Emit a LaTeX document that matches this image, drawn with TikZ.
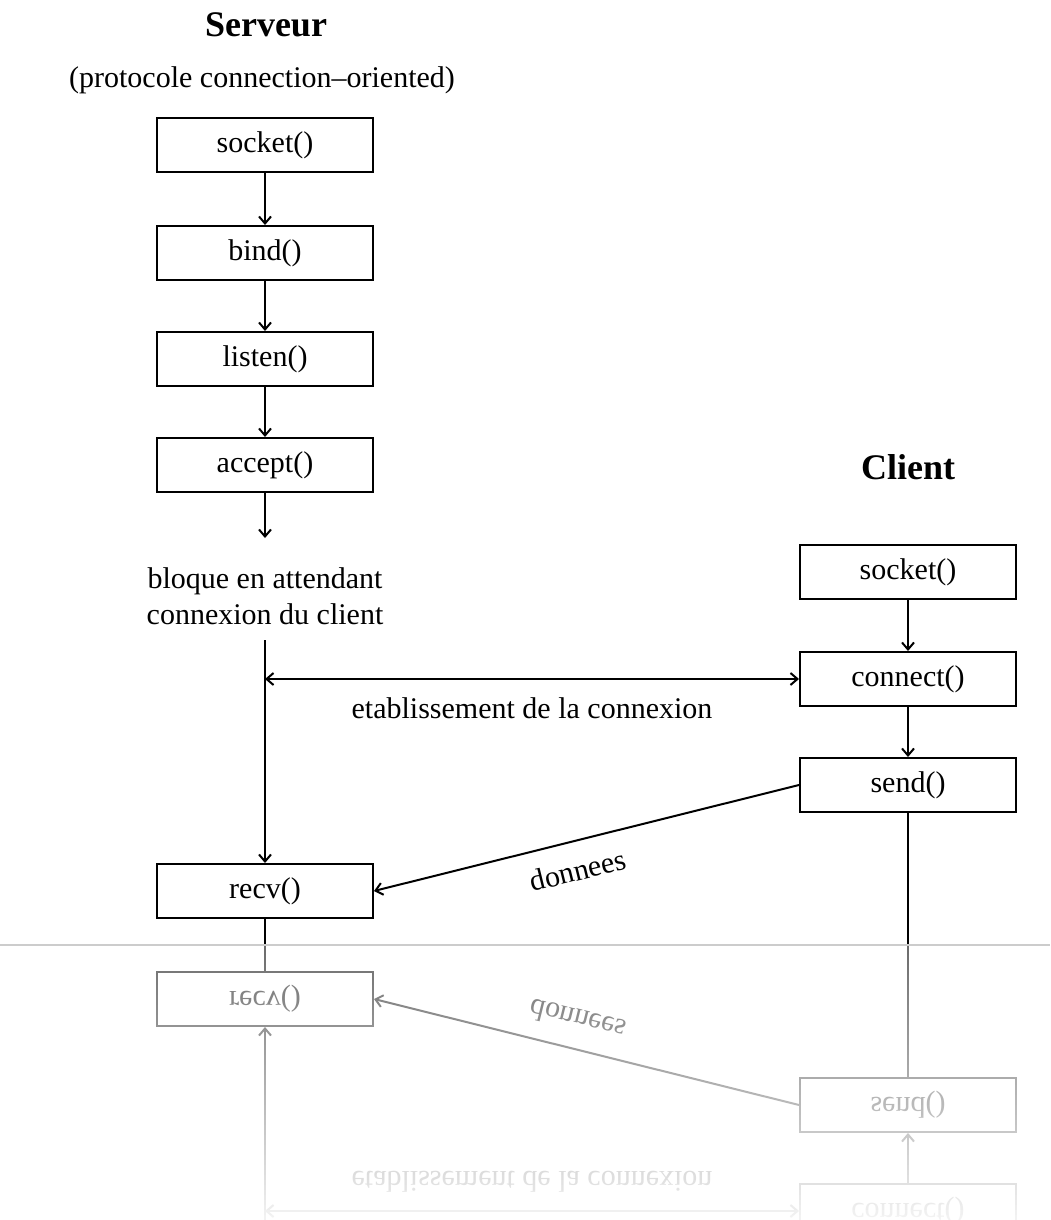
\documentclass[tikz,border=0pt]{standalone}
\usepackage{fontspec}
\setmainfont{Liberation Serif}
\usetikzlibrary{arrows.meta}

\tikzset{
  fn/.style={draw, line width=2pt, minimum width=216pt, minimum height=54pt, inner sep=0pt,
             font=\fontsize{30}{36}\selectfont},
  txt/.style={inner sep=0pt, font=\fontsize{30}{36}\selectfont},
  ttl/.style={inner sep=0pt, font=\fontsize{36}{40}\selectfont\bfseries},
  conn/.style={line width=2pt},
  flow/.style={line width=2pt, -{Straight Barb[length=7pt,width=12pt]}},
  both/.style={line width=2pt, {Straight Barb[length=7pt,width=12pt]}-{Straight Barb[length=7pt,width=12pt]}},
}

% lower part of the diagram (also used for the reflection)
\newcommand\lowerpart{%
  \coordinate (rtop) at (265,640);
  \node[fn] (recv) at (265,891) {recv()};
  \coordinate (rend) at (265,946);
  \node[fn] (cconn) at (908,679) {connect()};
  \node[fn] (csend) at (908,785) {send()};
  \coordinate (send end) at (908,946);
  \coordinate (cx) at (265,679);
  \draw[flow] (rtop) -- (recv);
  \draw[conn] (recv) -- (rend);
  \draw[flow] (cconn) -- (csend);
  \draw[conn] (csend) -- (send end);
  \draw[both] (cx) -- (cconn.west)
     node[txt, midway, yshift=-29pt] (etab) {etablissement de la connexion};
  \draw[flow] (csend.west) -- (recv.east)
     node[txt, pos=0.52, yshift=-30pt, rotate=13.9] (donn) {donnees};
}

\begin{document}
\begin{tikzpicture}[x=1pt, y=-1pt]
  \useasboundingbox (0,0) rectangle (1050,1220);
  \fill[white] (0,0) rectangle (1050,1220);
  % server side
  \node[ttl] (tserv) at (266,25) {Serveur};
  \node[txt] (proto) at (262,80) {(protocole connection–oriented)};
  \node[fn] (ssock) at (265,145) {socket()};
  \node[fn] (sbind) at (265,253) {bind()};
  \node[fn] (slist) at (265,359) {listen()};
  \node[fn] (sacc)  at (265,465) {accept()};
  \coordinate (wait) at (265,538);
  \node[txt, align=center] (bloque) at (265,596) {bloque en attendant\\connexion du client};
  \draw[flow] (ssock) -- (sbind);
  \draw[flow] (sbind) -- (slist);
  \draw[flow] (slist) -- (sacc);
  \draw[flow] (sacc) -- (wait);
  % client side
  \node[ttl] (tcli) at (908,467) {Client};
  \node[fn] (csock) at (908,572) {socket()};
  \lowerpart
  \draw[flow] (csock) -- (cconn);
  % reflection
  \begin{scope}
    \clip (0,945) rectangle (1050,1220);
    \begin{scope}[yshift=-1890pt, yscale=-1, transform shape]
      \lowerpart
    \end{scope}
  \end{scope}
  \foreach \i in {0,...,54} {
    \pgfmathsetmacro\op{0.42+0.53*\i/54}
    \fill[white, fill opacity=\op] (0,{945+5*\i}) rectangle (1050,{950+5*\i});
  }
  \draw[black!20, line width=1.5pt] (0,945) -- (1050,945);
\end{tikzpicture}
\end{document}
